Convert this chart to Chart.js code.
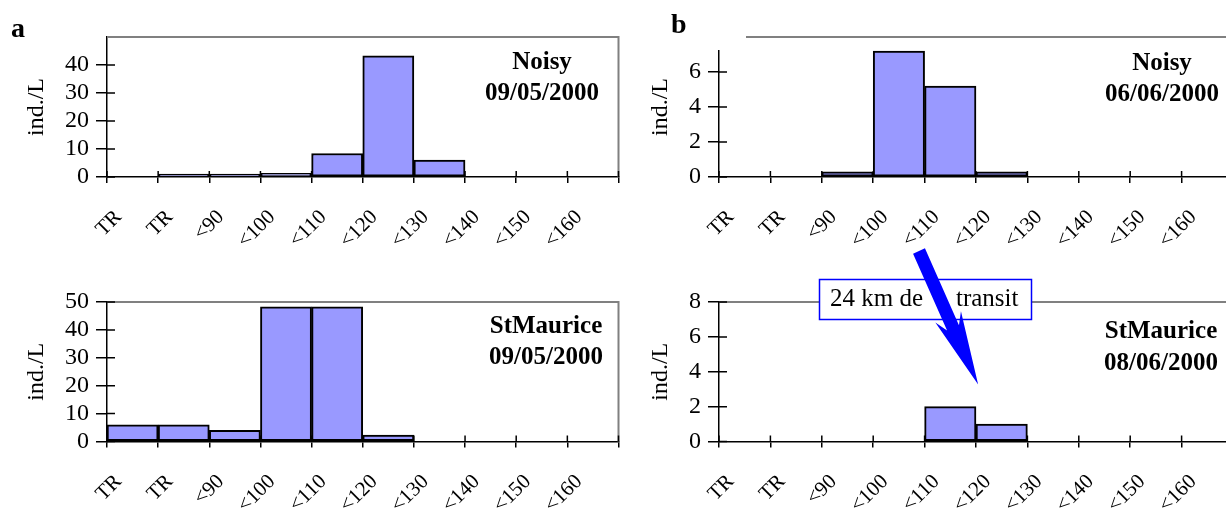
<!DOCTYPE html>
<html>
<head>
<meta charset="utf-8">
<script src="https://cdn.jsdelivr.net/npm/chart.js@4.4.1/dist/chart.umd.min.js"></script>
<style>
  html, body { margin: 0; padding: 0; background: #fff; overflow: hidden; }
  #wrap { position: relative; width: 1226px; height: 509px; overflow: hidden; }
  canvas { position: absolute; }
</style>
</head>
<body>
<div id="wrap">
  <canvas id="aTop" width="620" height="255" style="left:0;top:0;width:620px;height:255px"></canvas>
  <canvas id="aBottom" width="620" height="254" style="left:0;top:255px;width:620px;height:254px"></canvas>
  <canvas id="bTop" width="620" height="255" style="left:620px;top:0;width:620px;height:255px"></canvas>
  <canvas id="bBottom" width="620" height="254" style="left:620px;top:255px;width:620px;height:254px"></canvas>
  <canvas id="overlay" width="1226" height="509" style="left:0;top:0;width:1226px;height:509px"></canvas>
</div>
<script>
// size classes (mm) on the x axis
var sizeLabels = ['TR', 'TR', '<90', '<100', '<110', '<120', '<130', '<140', '<150', '<160'];

// ind./L per size class
var noisyMay      = [0, 1, 1, 1.3, 8.4, 43.3, 6, 0, 0, 0];
var stMauriceMay  = [6, 6, 4, 48.3, 48.3, 2.3, 0, 0, 0, 0];
var noisyJune     = [0, 0, 0.3, 7.2, 5.2, 0.3, 0, 0, 0, 0];
var stMauriceJune = [0, 0, 0, 0, 2, 1, 0, 0, 0, 0];

var serif = "'Liberation Serif', 'Times New Roman', serif";

// gray frame on top / right of the plot area
var framePlugin = {
  id: 'frame',
  afterDraw: function (chart) {
    var a = chart.chartArea, ctx = chart.ctx;
    ctx.save();
    ctx.strokeStyle = '#808080';
    ctx.lineWidth = 2;
    ctx.beginPath();
    ctx.moveTo(a.left, a.top);
    ctx.lineTo(a.right, a.top);
    ctx.lineTo(a.right, a.bottom);
    ctx.stroke();
    ctx.restore();
  }
};

// excel style "cross" tick marks : inner half
var crossTicks = {
  id: 'crossTicks',
  afterDraw: function (chart) {
    var ctx = chart.ctx, a = chart.chartArea;
    var xs = chart.scales.x, ys = chart.scales.y;
    ctx.save();
    ctx.strokeStyle = '#000';
    ctx.lineWidth = 1.5;
    ctx.beginPath();
    var bw = xs.getPixelForValue(1) - xs.getPixelForValue(0);
    var x0 = xs.getPixelForValue(0) - bw / 2;
    for (var i = 0; i <= sizeLabels.length; i++) {
      ctx.moveTo(x0 + i * bw, a.bottom - 6);
      ctx.lineTo(x0 + i * bw, a.bottom);
    }
    ys.ticks.forEach(function (t) {
      if (chart.options.plugins.panelText.hideTop && t.value === ys.max) return;
      var y = ys.getPixelForValue(t.value);
      ctx.moveTo(a.left, y);
      ctx.lineTo(a.left + 8, y);
    });
    ctx.stroke();
    ctx.restore();
  }
};

// station / date text in the upper right corner
var panelText = {
  id: 'panelText',
  afterDraw: function (chart, args, opts) {
    var ctx = chart.ctx;
    ctx.save();
    ctx.fillStyle = '#000';
    ctx.font = 'bold 25px ' + serif;
    ctx.textAlign = 'center';
    ctx.textBaseline = 'alphabetic';
    ctx.fillText(opts.site, opts.cx, opts.y1);
    ctx.fillText(opts.date, opts.cx, opts.y2);
    ctx.restore();
  }
};

function makeChart(id, values, o) {
  return new Chart(document.getElementById(id), {
    type: 'bar',
    data: {
      labels: sizeLabels,
      datasets: [{
        data: values,
        backgroundColor: '#9999ff',
        borderColor: '#000',
        borderWidth: 2,
        borderSkipped: false,
        categoryPercentage: 1,
        barPercentage: 1
      }]
    },
    options: {
      responsive: false,
      animation: false,
      layout: { padding: { top: o.padTop, right: o.padRight, left: 0, bottom: 0 } },
      plugins: {
        legend: { display: false },
        tooltip: { enabled: false },
        panelText: { site: o.site, date: o.date, cx: o.cx, y1: o.y1, y2: o.y2, hideTop: o.hideTop }
      },
      scales: {
        x: {
          grid: { drawOnChartArea: false, offset: true, tickLength: 6, color: '#000', lineWidth: 1.5 },
          border: { color: '#000', width: 1.5 },
          ticks: {
            autoSkip: false, minRotation: 45, maxRotation: 45,
            color: '#000', font: { family: serif, size: 21 },
            padding: 22, labelOffset: -14
          },
          afterFit: function (s) {
            s.height = o.xHeight;
            s.paddingLeft = 0;
            s.paddingRight = 0;
          }
        },
        y: {
          min: 0, max: o.max,
          ticks: {
            autoSkip: false,
            stepSize: o.step, color: '#000', font: { family: serif, size: 24 }, padding: 7,
            callback: function (v) { return (o.hideTop && v === o.max) ? '' : v; }
          },
          grid: {
            drawOnChartArea: false, tickLength: 11, lineWidth: 1.5,
            color: function (c) { return (o.hideTop && c.tick && c.tick.value === o.max) ? 'rgba(0,0,0,0)' : '#000'; }
          },
          border: { color: '#000', width: 1.5 },
          title: {
            display: true, text: 'ind./L', color: '#000',
            font: { family: serif, size: 24 }, padding: { top: o.titlePad, bottom: 0 }
          },
          afterFit: function (s) {
            s.width = o.yWidth;
            s.paddingTop = 0;
            s.paddingBottom = 0;
          }
        }
      }
    },
    plugins: [framePlugin, crossTicks, panelText]
  });
}

makeChart('aTop', noisyMay, {
  padTop: 37, padRight: 1.5, xHeight: 78, yWidth: 107, titlePad: 22,
  max: 50, step: 10, hideTop: true,
  site: 'Noisy', date: '09/05/2000', cx: 542, y1: 69, y2: 100
});
makeChart('aBottom', stMauriceMay, {
  padTop: 47, padRight: 1.5, xHeight: 67.5, yWidth: 107, titlePad: 22,
  max: 50, step: 10, hideTop: false,
  site: 'StMaurice', date: '09/05/2000', cx: 546, y1: 78, y2: 109
});
makeChart('bTop', noisyJune, {
  padTop: 37, padRight: 7, xHeight: 78, yWidth: 99, titlePad: 26,
  max: 8, step: 2, hideTop: true,
  site: 'Noisy', date: '06/06/2000', cx: 542, y1: 70, y2: 101
});
makeChart('bBottom', stMauriceJune, {
  padTop: 47, padRight: 7, xHeight: 67.5, yWidth: 99, titlePad: 26,
  max: 8, step: 2, hideTop: false,
  site: 'StMaurice', date: '08/06/2000', cx: 541, y1: 83, y2: 115
});

// panel letters, callout box and arrow
var ctx = document.getElementById('overlay').getContext('2d');
ctx.fillStyle = '#fff';
ctx.fillRect(700, 0, 46, 50);

ctx.fillStyle = '#000';
ctx.font = 'bold 28px ' + serif;
ctx.fillText('a', 11, 37);
ctx.fillText('b', 671, 33);

ctx.fillStyle = '#fff';
ctx.fillRect(819.5, 279.5, 212, 40);
ctx.strokeStyle = '#0000ff';
ctx.lineWidth = 1.5;
ctx.strokeRect(819.5, 279.5, 212, 40);
ctx.fillStyle = '#000';
ctx.font = '25px ' + serif;
ctx.fillText('24 km de', 830, 306);
ctx.fillText('transit', 956, 306);

var tail = [919, 251], ux = 0.405, uy = 0.914, nx = 0.914, ny = -0.405;
function pt(d, w) { return [tail[0] + d * ux + w * nx, tail[1] + d * uy + w * ny]; }
var arrow = [pt(0, -6.5), pt(0, 6.5), pt(84, 6.5), pt(72, 14), pt(146, 0), pt(72, -14), pt(84, -6.5)];
ctx.fillStyle = '#0000ff';
ctx.beginPath();
arrow.forEach(function (p, i) { if (i) ctx.lineTo(p[0], p[1]); else ctx.moveTo(p[0], p[1]); });
ctx.closePath();
ctx.fill();
</script>
</body>
</html>
